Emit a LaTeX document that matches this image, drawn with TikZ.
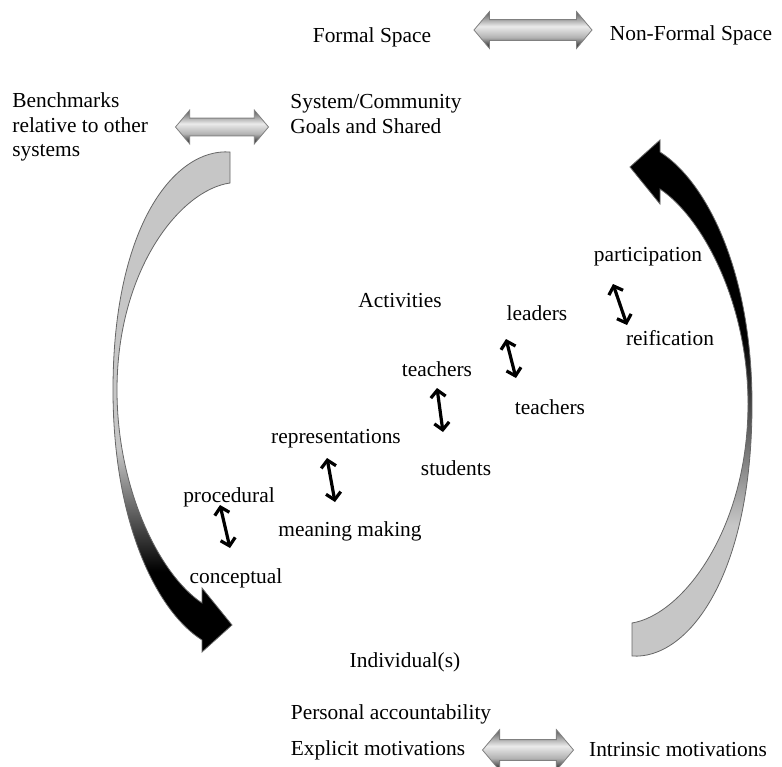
\documentclass[tikz,border=0pt]{standalone}
\usepackage{fontspec}
\setmainfont{Liberation Serif}
\usetikzlibrary{arrows.meta, shapes.arrows}

% shadings for the two curved bands and the flat double arrows
\pgfdeclareverticalshading{bandleft}{100bp}{color(0bp)=(black); color(33bp)=(black); color(45bp)=(gray!45); color(100bp)=(gray!45)}
\pgfdeclareverticalshading{bandright}{100bp}{color(0bp)=(gray!45); color(38bp)=(gray!45); color(56bp)=(black); color(100bp)=(black)}
\pgfdeclareverticalshading{metal}{100bp}{color(0bp)=(black!90); color(25bp)=(black!90); color(40bp)=(black!30); color(55bp)=(black!8); color(75bp)=(black!65); color(100bp)=(black!65)}

% outlines of the curved bands with their heads
\newcommand{\bandleft}{(230,152) .. controls (175,148) and (113,225) .. (113,390)
  .. controls (113,520) and (155,610) .. (202,640) -- (202,652) -- (232,625) -- (202,588) -- (202,603)
  .. controls (160,575) and (117,490) .. (117,390)
  .. controls (117,270) and (180,190) .. (230,183) -- cycle}
\newcommand{\bandright}{(632,656) .. controls (687,660) and (752,578) .. (752,404)
  .. controls (752,272) and (707,182) .. (660,152) -- (660,140) -- (630,167) -- (660,204) -- (660,189)
  .. controls (702,217) and (748,302) .. (748,404)
  .. controls (748,530) and (682,615) .. (632,623) -- cycle}

\begin{document}
\begin{tikzpicture}[x=0.5pt, y=-0.5pt,
    lbl/.style={inner sep=0pt, font=\fontsize{10.7}{12.4}\selectfont},
    wide/.style={double arrow, draw=black!50, line width=0.4pt, shade, shading=metal,
        double arrow tip angle=100, inner xsep=0pt},
    dbl/.style={{Straight Barb[length=3.5pt,width=7.5pt]}-{Straight Barb[length=3.5pt,width=7.5pt]}, line width=1.6pt}]

    \useasboundingbox (0,0) rectangle (782,766);

    % Curved bands
    \shade[shading=bandleft, draw=black!60, line width=0.4pt] \bandleft;
    \shade[shading=bandright, draw=black!60, line width=0.4pt] \bandright;

    % Top row
    \node[lbl] (formal) at (372,37) {Formal Space};
    \node[wide, minimum height=59pt, inner ysep=5pt, double arrow head extend=4pt] (spaces) at (533,30) {};
    \node[lbl] (nonformal) at (691,35) {Non-Formal Space};

    \node[lbl, align=left, anchor=west] (bench) at (12,127) {Benchmarks\\relative to other\\systems};
    \node[wide, minimum height=46.5pt, inner ysep=4.25pt, double arrow head extend=4pt] (compare) at (222,127) {};
    \node[lbl, align=left, anchor=west] (goals) at (290,114) {System/Community\\Goals and Shared};

    % Middle words
    \node[lbl] (activities) at (400,301) {Activities};
    \node[lbl] (participation) at (648,257) {participation};
    \node[lbl] (reification) at (670,338) {reification};
    \node[lbl] (leaders) at (537,313) {leaders};
    \node[lbl] (teachersB) at (550,407) {teachers};
    \node[lbl] (teachersA) at (437,369) {teachers};
    \node[lbl] (students) at (456,468) {students};
    \node[lbl] (represent) at (336,439) {representations};
    \node[lbl] (meaning) at (350,531) {meaning making};
    \node[lbl] (procedural) at (229,497) {procedural};
    \node[lbl] (conceptual) at (236,578) {conceptual};

    % Bottom
    \node[lbl] (individual) at (405,662) {Individual(s)};
    \node[lbl] (personal) at (391,714) {Personal accountability};
    \node[lbl] (explicit) at (378,750) {Explicit motivations};
    \node[wide, minimum height=45.5pt, inner ysep=5pt, double arrow head extend=5pt] (motiv) at (528,750) {};
    \node[lbl] (intrinsic) at (678,750) {Intrinsic motivations};

    % Short two-way arrows
    \coordinate (pr1) at (613,284); \coordinate (pr2) at (627,325);
    \coordinate (lt1) at (506,339); \coordinate (lt2) at (516,378);
    \coordinate (ts1) at (437,388); \coordinate (ts2) at (443,432);
    \coordinate (rm1) at (327,458); \coordinate (rm2) at (335,502);
    \coordinate (pc1) at (220,505); \coordinate (pc2) at (230,548);
    \draw[dbl] (pr1) -- (pr2);
    \draw[dbl] (lt1) -- (lt2);
    \draw[dbl] (ts1) -- (ts2);
    \draw[dbl] (rm1) -- (rm2);
    \draw[dbl] (pc1) -- (pc2);

\end{tikzpicture}
\end{document}
